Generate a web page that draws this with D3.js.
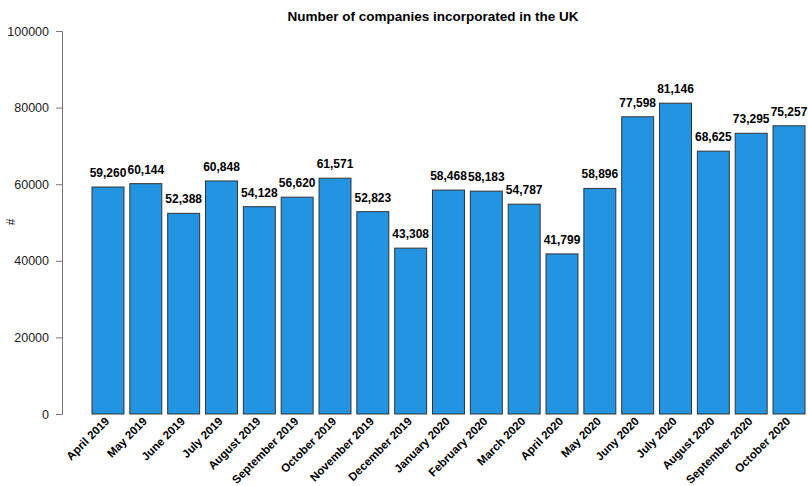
<!DOCTYPE html>
<html>
<head>
<meta charset="utf-8">
<script src="https://cdn.jsdelivr.net/npm/d3@7"></script>
<style>
  body { margin: 0; background: #fff; }
  svg { font-family: "Liberation Sans", Arial, sans-serif; }
</style>
</head>
<body>
<script>
// Monthly counts
const months = ['April 2019', 'May 2019', 'June 2019', 'July 2019', 'August 2019',
    'September 2019', 'October 2019', 'November 2019', 'December 2019', 'January 2020',
    'February 2020', 'March 2020', 'April 2020', 'May 2020', 'Juny 2020', 'July 2020',
    'August 2020', 'September 2020', 'October 2020'];
const counts = [59260, 60144, 52388, 60848, 54128, 56620, 61571, 52823, 43308, 58468,
    58183, 54787, 41799, 58896, 77598, 81146, 68625, 73295, 75257];
const yTicks = [0, 20000, 40000, 60000, 80000, 100000];

const data = months.map((m, i) => ({ month: m, count: counts[i] }));

const width = 808, height = 486;
const svg = d3.select('body').append('svg')
    .attr('width', width)
    .attr('height', height);

// Scales
const x = d3.scaleBand()
    .domain(months)
    .range([92, 805])
    .paddingInner(0.155)
    .paddingOuter(0);

const y = d3.scaleLinear()
    .domain([0, 100000])
    .range([414, 31]);

// Title
svg.append('text')
    .attr('x', 433)
    .attr('y', 21)
    .attr('text-anchor', 'middle')
    .style('font-size', '13.5px')
    .style('font-weight', 'bold')
    .text('Number of companies incorporated in the UK');

// Y axis
const yAxis = svg.append('g')
    .attr('transform', 'translate(62,0)')
    .call(d3.axisLeft(y).tickValues(yTicks).tickFormat(d3.format('d')).tickSize(6).tickPadding(7));
yAxis.selectAll('path, line').attr('stroke', '#777');
yAxis.selectAll('text')
    .style('font-size', '12.5px')
    .attr('fill', '#222')
    .style('font-family', '"Liberation Sans", Arial, sans-serif');

svg.append('text')
    .attr('transform', 'translate(15,222) rotate(-90)')
    .attr('text-anchor', 'middle')
    .style('font-size', '12px')
    .attr('fill', '#222')
    .text('#');

// Bars
svg.selectAll('.bar')
    .data(data)
    .enter().append('rect')
    .attr('class', 'bar')
    .attr('x', d => x(d.month))
    .attr('y', d => y(d.count))
    .attr('width', x.bandwidth())
    .attr('height', d => y(0) - y(d.count))
    .attr('fill', '#2394e1')
    .attr('stroke', '#333')
    .attr('stroke-width', 1);

// Value labels
svg.selectAll('.value')
    .data(data)
    .enter().append('text')
    .attr('class', 'value')
    .attr('x', d => x(d.month) + x.bandwidth() / 2)
    .attr('y', d => y(d.count) - 10)
    .attr('text-anchor', 'middle')
    .style('font-size', '12px')
    .style('font-weight', 'bold')
    .text(d => d3.format(',')(d.count));

// Month labels, rotated
svg.selectAll('.month')
    .data(data)
    .enter().append('text')
    .attr('class', 'month')
    .attr('transform', d => `translate(${x(d.month) + x.bandwidth() / 2 + 2},${y(0) + 8}) rotate(-45)`)
    .attr('text-anchor', 'end')
    .style('font-size', '11.5px')
    .style('font-weight', 'bold')
    .text(d => d.month);
</script>
</body>
</html>
